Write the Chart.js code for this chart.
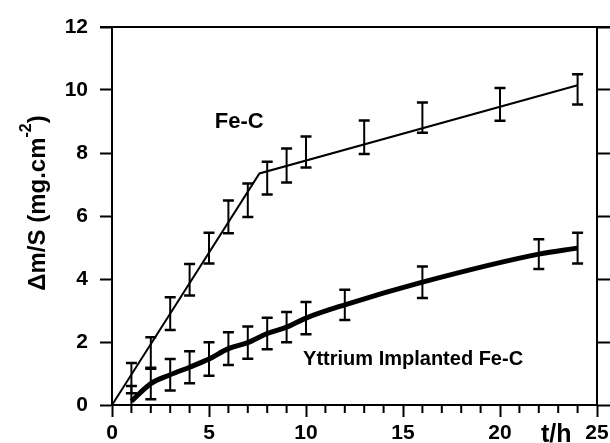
<!DOCTYPE html>
<html>
<head>
<meta charset="utf-8">
<script src="https://cdn.jsdelivr.net/npm/chart.js@4.4.1/dist/chart.umd.min.js"></script>
<style>
  html, body { margin: 0; padding: 0; background: #fff; }
</style>
</head>
<body>
<canvas id="chart" width="610" height="443"></canvas>
<script>
// Fe-C : measured points (mean +/- error) and the two-segment fit line
const feT = [1, 2, 3, 4, 5, 6, 7, 8, 9, 10, 13, 16, 20, 24];
const feMean = [0.85, 1.65, 2.9, 3.98, 4.98, 5.97, 6.5, 7.2, 7.6, 8.03, 8.5, 9.12, 9.54, 10.02];
const feErr = [0.48, 0.5, 0.52, 0.5, 0.49, 0.52, 0.53, 0.52, 0.54, 0.49, 0.53, 0.48, 0.52, 0.48];
const feFitT = [0, 7.6, 24];
const feFitY = [0, 7.35, 10.15];

// Yttrium implanted Fe-C
const yT = [1, 2, 3, 4, 5, 6, 7, 8, 9, 10, 12, 16, 22, 24];
const yMean = [0.12, 0.68, 0.96, 1.2, 1.46, 1.79, 1.98, 2.27, 2.47, 2.76, 3.18, 3.9, 4.79, 4.98];
const yErr = [0.48, 0.5, 0.5, 0.51, 0.53, 0.52, 0.51, 0.5, 0.48, 0.51, 0.48, 0.5, 0.47, 0.49];

// axis ticks
const xTicks = [0, 5, 10, 15, 20, 25];
const yTicks = [0, 2, 4, 6, 8, 10, 12];

const FONT = 'Liberation Sans, Arial, sans-serif';

function pts(xs, ys) {
  return xs.map((x, i) => ({ x: x, y: ys[i] }));
}

// error bars + minor ticks + text labels
const extras = {
  id: 'extras',
  afterDatasetsDraw(chart) {
    const ctx = chart.ctx;
    const xs = chart.scales.x, ys = chart.scales.y;
    const area = chart.chartArea;
    ctx.save();
    ctx.beginPath();
    ctx.rect(area.left, area.top - 2, area.right - area.left, area.bottom - area.top + 2);
    ctx.clip();
    ctx.strokeStyle = '#000';
    chart.data.datasets.forEach(ds => {
      if (!ds.errors) return;
      ds.data.forEach((p, i) => {
        const px = xs.getPixelForValue(p.x);
        const top = ys.getPixelForValue(p.y + ds.errors[i]);
        const bot = ys.getPixelForValue(p.y - ds.errors[i]);
        ctx.lineWidth = 2;
        ctx.beginPath();
        ctx.moveTo(px, top); ctx.lineTo(px, bot);
        ctx.stroke();
        ctx.lineWidth = 2.5;
        ctx.beginPath();
        ctx.moveTo(px - 5.5, top); ctx.lineTo(px + 5.5, top);
        ctx.moveTo(px - 5.5, bot); ctx.lineTo(px + 5.5, bot);
        ctx.stroke();
      });
    });
    ctx.restore();
  },
  afterDraw(chart) {
    const ctx = chart.ctx;
    const xs = chart.scales.x, ys = chart.scales.y;
    const area = chart.chartArea;
    ctx.save();
    ctx.strokeStyle = '#000';
    ctx.fillStyle = '#000';

    // top frame line
    ctx.lineWidth = 2;
    ctx.beginPath();
    ctx.moveTo(area.left - 12, area.top);
    ctx.lineTo(area.right + 13, area.top);
    ctx.stroke();

    // minor ticks on the time axis
    ctx.lineWidth = 2;
    for (let t = 1; t < 25; t++) {
      if (t % 5 === 0) continue;
      const px = xs.getPixelForValue(t);
      ctx.beginPath();
      ctx.moveTo(px, area.bottom);
      ctx.lineTo(px, area.bottom + 8);
      ctx.stroke();
    }

    // series labels
    ctx.font = 'bold 22px ' + FONT;
    ctx.textBaseline = 'middle';
    ctx.textAlign = 'left';
    ctx.fillText('Fe-C', xs.getPixelForValue(5.3), ys.getPixelForValue(9.0));
    ctx.font = 'bold 20px ' + FONT;
    ctx.fillText('Yttrium Implanted Fe-C', xs.getPixelForValue(9.85), ys.getPixelForValue(1.46));

    // axis unit on x
    ctx.font = 'bold 25px ' + FONT;
    ctx.textAlign = 'center';
    ctx.textBaseline = 'alphabetic';
    ctx.fillText('t/h', xs.getPixelForValue(22.9), area.bottom + 37);

    // y axis title, rotated, with superscript
    const main = '\u0394m/S (mg.cm';
    const sup = '-2';
    const end = ')';
    ctx.translate(38, 203);
    ctx.rotate(-Math.PI / 2);
    ctx.font = 'bold 24px ' + FONT;
    const wMain = ctx.measureText(main).width;
    const wEnd = ctx.measureText(end).width;
    ctx.font = 'bold 16px ' + FONT;
    const wSup = ctx.measureText(sup).width;
    let x0 = -(wMain + wSup + wEnd) / 2;
    ctx.textAlign = 'left';
    ctx.textBaseline = 'middle';
    ctx.font = 'bold 24px ' + FONT;
    ctx.fillText(main, x0, 0);
    ctx.font = 'bold 16px ' + FONT;
    ctx.fillText(sup, x0 + wMain, -11);
    ctx.font = 'bold 24px ' + FONT;
    ctx.fillText(end, x0 + wMain + wSup, 0);
    ctx.restore();
  }
};

const ctx = document.getElementById('chart').getContext('2d');
const chart = new Chart(ctx, {
  type: 'scatter',
  data: {
    datasets: [
      {
        label: 'Fe-C fit',
        data: pts(feFitT, feFitY),
        showLine: true,
        borderColor: '#000',
        borderWidth: 2,
        pointRadius: 0,
        fill: false
      },
      {
        label: 'Fe-C',
        data: pts(feT, feMean),
        errors: feErr,
        showLine: false,
        pointRadius: 0
      },
      {
        label: 'Yttrium Implanted Fe-C',
        data: pts(yT, yMean),
        errors: yErr,
        showLine: true,
        borderColor: '#000',
        borderWidth: 5,
        tension: 0.3,
        cubicInterpolationMode: 'monotone',
        pointRadius: 0,
        fill: false
      }
    ]
  },
  options: {
    responsive: false,
    animation: false,
    devicePixelRatio: 1,
    layout: { padding: { top: 27, left: 0, right: 0, bottom: 0 } },
    plugins: {
      legend: { display: false },
      tooltip: { enabled: false }
    },
    scales: {
      x: {
        type: 'linear',
        position: 'bottom',
        min: 0,
        max: 25,
        afterBuildTicks: s => { s.ticks = xTicks.map(v => ({ value: v })); },
        ticks: {
          color: '#000',
          font: { family: FONT, weight: 'bold', size: 21 },
          padding: 4,
          maxRotation: 0
        },
        grid: { drawOnChartArea: false, tickLength: 12, tickWidth: 2, tickColor: '#000' },
        border: { color: '#000', width: 2 },
        afterFit: s => { s.height = 38; s.paddingLeft = 0; s.paddingRight = 0; }
      },
      y: {
        type: 'linear',
        position: 'left',
        min: 0,
        max: 12,
        afterBuildTicks: s => { s.ticks = yTicks.map(v => ({ value: v })); },
        ticks: {
          color: '#000',
          font: { family: FONT, weight: 'bold', size: 21 },
          padding: 12
        },
        grid: { drawOnChartArea: false, tickLength: 12, tickWidth: 2, tickColor: '#000' },
        border: { color: '#000', width: 2 },
        afterFit: s => { s.width = 112; s.paddingTop = 0; s.paddingBottom = 0; }
      },
      y2: {
        type: 'linear',
        position: 'right',
        min: 0,
        max: 12,
        afterBuildTicks: s => { s.ticks = yTicks.map(v => ({ value: v })); },
        ticks: { display: false },
        grid: { drawOnChartArea: false, tickLength: 13, tickWidth: 2, tickColor: '#000' },
        border: { color: '#000', width: 2 },
        afterFit: s => { s.width = 13; s.paddingTop = 0; s.paddingBottom = 0; }
      }
    }
  },
  plugins: [extras]
});
</script>
</body>
</html>
